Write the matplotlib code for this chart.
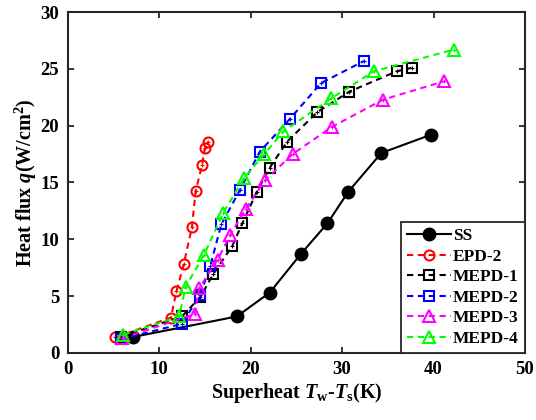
import matplotlib
matplotlib.use("Agg")
import matplotlib.pyplot as plt

plt.rcParams["font.family"] = "Liberation Serif"
plt.rcParams["font.weight"] = "bold"
plt.rcParams["mathtext.fontset"] = "custom"
plt.rcParams["mathtext.rm"] = "Liberation Serif:bold"
plt.rcParams["mathtext.it"] = "Liberation Serif:bold:italic"
plt.rcParams["mathtext.bf"] = "Liberation Serif:bold"

# ---- data ----
ss_x = [7.2, 18.5, 22.1, 25.5, 28.4, 30.7, 34.3, 39.7]
ss_y = [1.4, 3.2, 5.3, 8.7, 11.4, 14.2, 17.6, 19.2]

epd2_x = [5.2, 11.3, 11.9, 12.7, 13.6, 14.0, 14.7, 15.0, 15.4]
epd2_y = [1.35, 3.1, 5.4, 7.8, 11.1, 14.25, 16.5, 18.0, 18.6]

mepd1_x = [5.8, 12.5, 14.5, 15.9, 18.0, 19.1, 20.7, 22.1, 24.0, 27.3, 30.8, 36.0, 37.6]
mepd1_y = [1.4, 3.2, 4.9, 6.9, 9.4, 11.4, 14.2, 16.3, 18.6, 21.2, 23.0, 24.8, 25.1]

mepd2_x = [5.8, 12.5, 14.5, 15.6, 16.8, 18.85, 21.0, 24.3, 27.7, 32.4]
mepd2_y = [1.2, 2.55, 5.1, 7.65, 11.3, 14.35, 17.7, 20.6, 23.75, 25.7]

mepd3_x = [6.0, 13.9, 14.4, 16.4, 17.8, 19.5, 21.6, 24.6, 28.9, 34.5, 41.1]
mepd3_y = [1.3, 3.4, 5.7, 8.2, 10.4, 12.7, 15.2, 17.5, 19.9, 22.3, 23.9]

mepd4_x = [6.1, 12.2, 12.9, 14.9, 17.0, 19.3, 21.5, 23.6, 28.8, 33.5, 42.2]
mepd4_y = [1.6, 3.2, 5.8, 8.6, 12.3, 15.4, 17.5, 19.5, 22.4, 24.8, 26.7]

fig = plt.figure(figsize=(5.36, 4.2), dpi=100)
ax = fig.add_axes([0.126, 0.160, 0.8535, 0.811])

DASH = (0, (3, 2.2))
ax.plot(ss_x, ss_y, "-", color="black", lw=1.5, marker="o", ms=9,
        mfc="black", mec="black", label="SS", zorder=3)

series = [
    (epd2_x, epd2_y, "#FF0000", "o", "EPD-2"),
    (mepd1_x, mepd1_y, "black", "s", "MEPD-1"),
    (mepd2_x, mepd2_y, "#0000FF", "s", "MEPD-2"),
    (mepd3_x, mepd3_y, "#FF00FF", "^", "MEPD-3"),
    (mepd4_x, mepd4_y, "#00FF00", "^", "MEPD-4"),
]
for xs, ys, c, m, lab in series:
    ms = 8.5 if m == "^" else 7.2
    ax.plot(xs, ys, linestyle=DASH, color=c, lw=1.5, marker=m, ms=ms,
            mfc="none", mec=c, mew=1.5, label=lab, zorder=4)
    # little cross inside the hollow markers
    ax.plot(xs, ys, linestyle="none", marker="+", ms=3.5, mec=c, mew=0.8, zorder=4)

ax.set_xlim(0, 50)
ax.set_ylim(0, 30)
ax.set_xticks([0, 10, 20, 30, 40, 50])
ax.set_yticks([0, 5, 10, 15, 20, 25, 30])
ax.tick_params(direction="in", top=True, right=True, length=4, width=1.3,
               labelsize=13.5, pad=6, color="#262626")
for s in ax.spines.values():
    s.set_linewidth(1.5)
    s.set_color("#262626")

ax.set_xlabel(r"Superheat $T_{\mathrm{w}}$-$T_{\mathrm{s}}$(K)", fontsize=14.5,
              fontweight="bold", labelpad=2)
ax.set_ylabel(r"Heat flux $q$(W/cm$^{\mathrm{2}}$)", fontsize=14.5,
              fontweight="bold", labelpad=1)

leg = ax.legend(loc="lower right", borderaxespad=0, fontsize=12.5,
                handlelength=2.5, handletextpad=0.15, labelspacing=0.25,
                borderpad=0.35, fancybox=False, framealpha=1)
leg.get_frame().set_edgecolor("#262626")
leg.get_frame().set_linewidth(1.3)

fig.savefig("out.png", dpi=100)
